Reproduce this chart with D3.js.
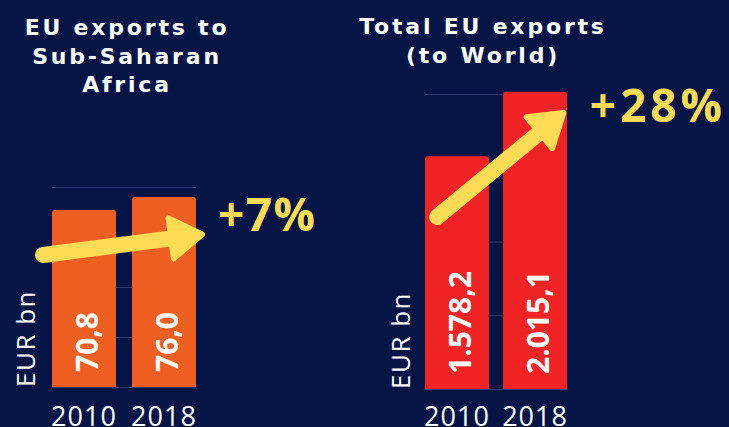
<!DOCTYPE html>
<html>
<head>
<meta charset="utf-8">
<script src="https://cdn.jsdelivr.net/npm/d3@7"></script>
<style>
  html, body { margin: 0; padding: 0; background: #031445; }
  svg { display: block; }
  text { font-family: "Open Sans", sans-serif; }
</style>
</head>
<body>
<svg id="chart" width="729" height="427"></svg>
<script>
var years = ['2010', '2018'];

var africaValues = [70.8, 76.0];
var africaLabels = ['70,8', '76,0'];
var africaTicks = [0, 20, 40, 60, 80];
var africaTitle = ['EU exports to', 'Sub-Saharan', 'Africa'];
var africaGrowth = '+7%';
// arrow ends: [year, offset inside the band (share of bar width), value]
var africaArrow = [['2010', -0.14, 52.8], ['2018', 1.14, 61.2]];

var worldValues = [1578.2, 2015.1];
var worldLabels = ['1.578,2', '2.015,1'];
var worldTicks = [0, 500, 1000, 1500, 2000];
var worldTitle = ['Total EU exports', '(to World)'];
var worldGrowth = '+28%';
var worldArrow = [['2010', 0.19, 1166], ['2018', 0.98, 1885]];

var svg = d3.select('#chart');
var YELLOW = '#ffdc55';

function topRounded(x, y, w, h, r) {
  return 'M' + x + ',' + (y + h) +
    'V' + (y + r) + 'Q' + x + ',' + y + ' ' + (x + r) + ',' + y +
    'H' + (x + w - r) + 'Q' + (x + w) + ',' + y + ' ' + (x + w) + ',' + (y + r) +
    'V' + (y + h) + 'Z';
}

function drawPanel(opts) {
  var g = svg.append('g');

  var x = d3.scaleBand().domain(years).range(opts.xRange).paddingInner(opts.pad).paddingOuter(0);
  var y = d3.scaleLinear().domain([0, opts.max]).range([opts.base, opts.top]);
  var bw = x.bandwidth();

  // faint gridlines
  var grid = g.append('g')
    .attr('transform', 'translate(' + opts.xRange[0] + ',0)')
    .call(d3.axisLeft(y).tickValues(opts.ticks).tickSize(-(opts.xRange[1] - opts.xRange[0])).tickFormat(''));
  grid.select('.domain').remove();
  grid.selectAll('.tick line').attr('stroke', '#2a3b70').attr('stroke-width', 1);

  var data = years.map(function(yr, i) {
    return { year: yr, value: opts.values[i], label: opts.labels[i] };
  });

  g.append('g').selectAll('path').data(data).join('path')
    .attr('d', function(d) {
      return topRounded(x(d.year), y(d.value), bw, y(0) - y(d.value), 3);
    })
    .attr('fill', opts.color);

  g.append('g').selectAll('text').data(data).join('text')
    .attr('transform', function(d) {
      return 'translate(' + (x(d.year) + bw / 2 + 14) + ',' + (y(0) - 15) + ') rotate(-90)';
    })
    .attr('fill', '#fff')
    .attr('font-size', 30)
    .attr('font-weight', 700)
    .text(function(d) { return d.label; });

  // year labels
  g.append('g').selectAll('text').data(data).join('text')
    .attr('x', function(d) { return x(d.year) + bw / 2; })
    .attr('y', 426)
    .attr('text-anchor', 'middle')
    .attr('fill', '#fff')
    .attr('font-size', 27)
    .attr('letter-spacing', 1)
    .text(function(d) { return d.year; });

  // unit label
  g.append('text')
    .attr('transform', 'translate(' + opts.unitX + ',' + y(0) + ') rotate(-90)')
    .attr('fill', '#fff')
    .attr('font-size', 26)
    .attr('letter-spacing', 1.5)
    .text('EUR bn');

  // title
  g.append('text')
    .attr('text-anchor', 'middle')
    .attr('fill', '#fff')
    .style('font-family', '"DejaVu Sans", sans-serif')
    .attr('font-size', 22)
    .attr('font-weight', 700)
    .attr('letter-spacing', 2.8)
    .selectAll('tspan').data(opts.title).join('tspan')
    .attr('x', opts.titleX)
    .attr('y', function(d, i) { return opts.titleY + i * 28.5; })
    .text(function(d) { return d; });

  // growth arrow
  var p = opts.arrow.map(function(a) {
    return [x(a[0]) + a[1] * bw, y(a[2])];
  });
  var dx = p[1][0] - p[0][0], dy = p[1][1] - p[0][1];
  var len = Math.sqrt(dx * dx + dy * dy);
  var ux = dx / len, uy = dy / len;
  var nx = -uy, ny = ux;
  var L = 31, W = 20;
  var tip = [p[1][0] - ux * 3, p[1][1] - uy * 3];
  var back = [tip[0] - ux * L, tip[1] - uy * L];

  g.append('line')
    .attr('x1', p[0][0]).attr('y1', p[0][1])
    .attr('x2', back[0] + ux * 4).attr('y2', back[1] + uy * 4)
    .attr('stroke', YELLOW)
    .attr('stroke-width', 16)
    .attr('stroke-linecap', 'round');

  g.append('path')
    .attr('d', d3.line()([
      tip,
      [back[0] + nx * W, back[1] + ny * W],
      [back[0] - nx * W, back[1] - ny * W]
    ]) + 'Z')
    .attr('fill', YELLOW)
    .attr('stroke', YELLOW)
    .attr('stroke-width', 6)
    .attr('stroke-linejoin', 'round');

  g.append('text')
    .attr('x', p[1][0] + opts.growthDx)
    .attr('y', p[1][1] + opts.growthDy)
    .attr('fill', YELLOW)
    .attr('font-size', 46)
    .attr('font-weight', 700)
    .attr('letter-spacing', opts.growthSpacing)
    .text(opts.growth);
}

drawPanel({
  values: africaValues, labels: africaLabels, ticks: africaTicks, max: 80,
  xRange: [52, 196], pad: 0.2, base: 387, top: 187,
  color: '#f05f22', title: africaTitle, titleX: 127, titleY: 35,
  unitX: 35, arrow: africaArrow, growth: africaGrowth, growthDx: 13, growthDy: -3, growthSpacing: 1.5
});

drawPanel({
  values: worldValues, labels: worldLabels, ticks: worldTicks, max: 2000,
  xRange: [425, 567], pad: 0.18, base: 389, top: 94,
  color: '#f12324', title: worldTitle, titleX: 483, titleY: 34,
  unitX: 410, arrow: worldArrow, growth: worldGrowth, growthDx: 24, growthDy: 11, growthSpacing: 4
});
</script>
</body>
</html>
